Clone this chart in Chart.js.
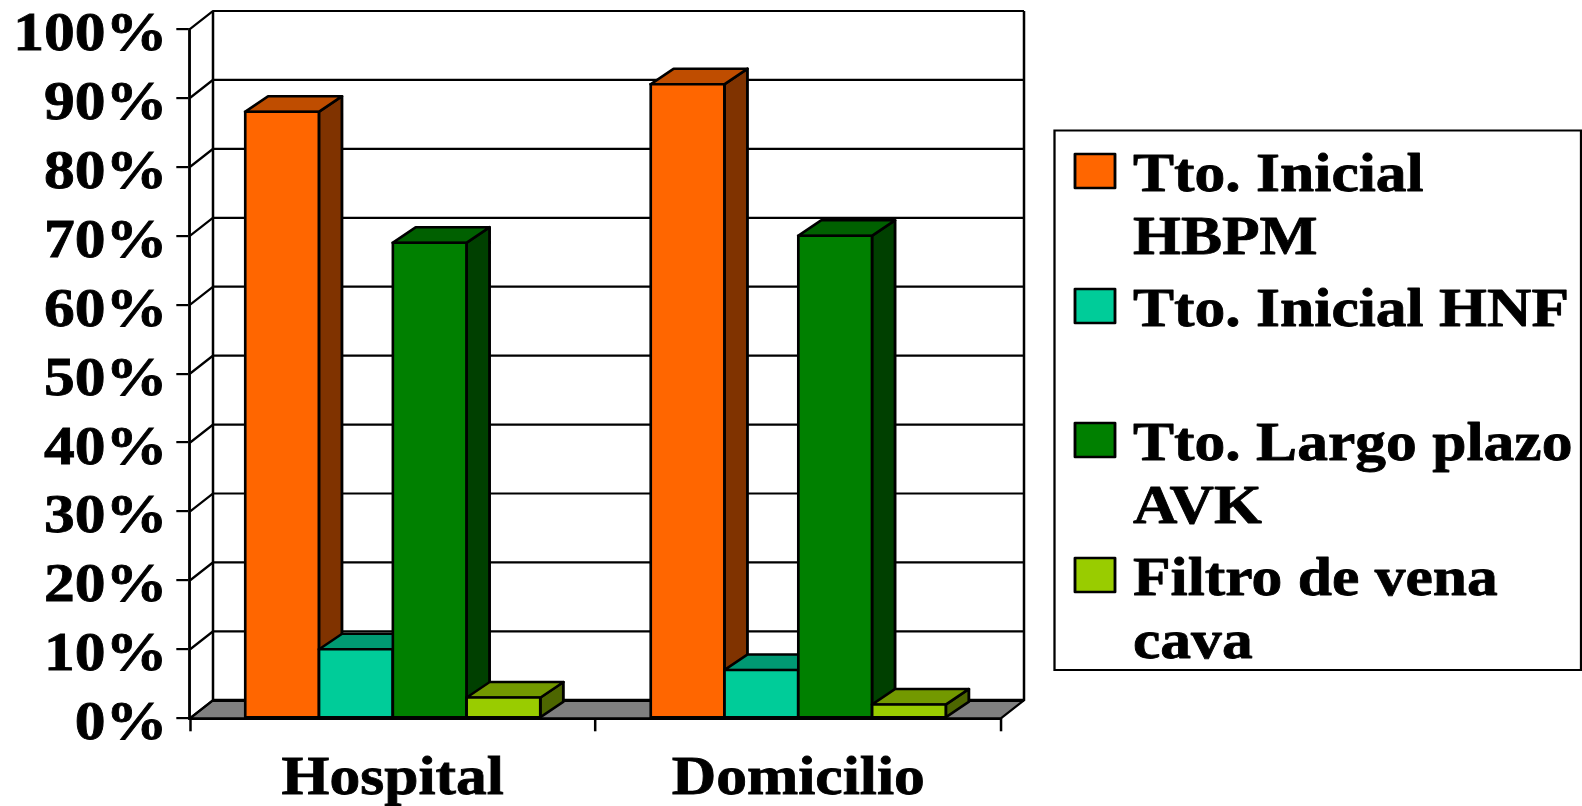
<!DOCTYPE html>
<html>
<head>
<meta charset="utf-8">
<title>Tratamiento Hospital / Domicilio</title>
<script src="https://cdn.jsdelivr.net/npm/chart.js@4/dist/chart.umd.js"></script>
<style>
    html, body { margin: 0; padding: 0; background: #fff; overflow: hidden; }
    canvas { display: block; }
</style>
</head>
<body>
<canvas id="myChart" width="1582" height="806"></canvas>
<script>
const categories = ['Hospital', 'Domicilio'];
const seriesNames = ['Tto. Inicial HBPM', 'Tto. Inicial HNF', 'Tto. Largo plazo AVK', 'Filtro de vena cava'];
const hbpm = [88, 92];
const hnf = [10, 7];
const avk = [69, 70];
const filtro = [3, 2];
const legendLines = [['Tto. Inicial', 'HBPM'], ['Tto. Inicial HNF'], ['Tto. Largo plazo', 'AVK'], ['Filtro de vena', 'cava']];

const frontColors = ['#FF6600', '#00CC99', '#008000', '#99CC00'];
const topColors = ['#BF4D00', '#009973', '#006000', '#739900'];
const sideColors = ['#803300', '#006650', '#004000', '#4D6600'];

// everything is laid out narrower and widened on the canvas, type included
const sx = 1.14;
const FONT = '"Liberation Serif", "Times New Roman", serif';
const wallDx = 23 / sx, wallDy = 18;
const barDx = 23 / sx, barDy = 15.5;

function poly(ctx, pts, fill) {
    ctx.beginPath();
    pts.forEach((p, i) => i ? ctx.lineTo(p[0], p[1]) : ctx.moveTo(p[0], p[1]));
    ctx.closePath();
    if (fill) {
        ctx.fillStyle = fill;
        ctx.fill();
    }
    ctx.stroke();
}

const stretch = {
    id: 'stretch',
    beforeDraw(chart) {
        chart.ctx.setTransform(sx, 0, 0, 1, 0, 0);
        // tick labels sit a little under their tick marks
        const items = chart.scales.y.getLabelItems();
        if (!items.nudged) {
            items.forEach(it => { it.options.translation[1] += 7; });
            items.nudged = true;
        }
    }
};

// side wall, back wall and floor, then the bars left to right so each one
// covers the side face of the previous one
const scene = {
    id: 'scene',
    beforeDatasetsDraw(chart) {
        const { ctx, chartArea: a, scales: { y } } = chart;
        ctx.save();
        ctx.strokeStyle = '#000';
        ctx.lineWidth = 2.2;
        ctx.lineJoin = 'round';
        poly(ctx, [[a.left, a.bottom], [a.left + wallDx, a.bottom - wallDy], [a.right + wallDx, a.bottom - wallDy], [a.right, a.bottom]], '#808080');
        y.ticks.forEach(t => {
            const py = y.getPixelForValue(t.value);
            ctx.beginPath();
            ctx.moveTo(a.left, py);
            ctx.lineTo(a.left + wallDx, py - wallDy);
            ctx.lineTo(a.right + wallDx, py - wallDy);
            ctx.stroke();
        });
        ctx.beginPath();
        ctx.moveTo(a.left + wallDx, a.top - wallDy);
        ctx.lineTo(a.left + wallDx, a.bottom - wallDy);
        ctx.moveTo(a.right + wallDx, a.top - wallDy);
        ctx.lineTo(a.right + wallDx, a.bottom - wallDy);
        ctx.stroke();
        ctx.lineWidth = 3.2;
        ctx.beginPath();
        ctx.moveTo(a.left + wallDx, a.bottom - wallDy);
        ctx.lineTo(a.right + wallDx, a.bottom - wallDy);
        ctx.stroke();

        ctx.lineWidth = 2.5;
        chart.data.datasets.forEach((ds, i) => {
            const meta = chart.getDatasetMeta(i);
            meta.data.forEach(bar => {
                const l = bar.x - bar.width / 2, r = bar.x + bar.width / 2, t = bar.y, b = bar.base;
                poly(ctx, [[r, t], [r + barDx, t - barDy], [r + barDx, b - barDy], [r, b]], sideColors[i]);
                poly(ctx, [[l, t], [l + barDx, t - barDy], [r + barDx, t - barDy], [r, t]], topColors[i]);
            });
            meta.controller.draw();
        });
        ctx.restore();
        return false;
    }
};

const legendBox = {
    id: 'legendBox',
    afterDraw(chart) {
        const { ctx } = chart;
        ctx.save();
        ctx.strokeStyle = '#000';
        ctx.lineWidth = 2;
        ctx.fillStyle = '#fff';
        ctx.fillRect(1054.5 / sx, 130.5, (1581 - 1054.5) / sx, 539.5);
        ctx.strokeRect(1054.5 / sx, 130.5, (1581 - 1054.5) / sx, 539.5);
        const baselines = [191, 326, 460, 595];
        ctx.font = 'bold 54px ' + FONT;
        ctx.textBaseline = 'alphabetic';
        ctx.lineJoin = 'round';
        legendLines.forEach((lines, i) => {
            const base = baselines[i];
            ctx.fillStyle = frontColors[i];
            ctx.lineWidth = 2.5;
            ctx.fillRect(1075 / sx, base - 37, 40 / sx, 34);
            ctx.strokeRect(1075 / sx, base - 37, 40 / sx, 34);
            ctx.fillStyle = '#000';
            ctx.lineWidth = 0.8;
            lines.forEach((line, k) => {
                ctx.fillText(line, 1133 / sx, base + k * 63);
                ctx.strokeText(line, 1133 / sx, base + k * 63);
            });
        });
        ctx.restore();
    }
};

const values = [hbpm, hnf, avk, filtro];

new Chart(document.getElementById('myChart'), {
    type: 'bar',
    data: {
        labels: categories,
        datasets: seriesNames.map((name, i) => ({
            label: name,
            data: values[i],
            backgroundColor: frontColors[i],
            borderColor: '#000',
            borderWidth: 2.5,
            borderSkipped: false,
            inflateAmount: 1.25,
            clip: false
        }))
    },
    options: {
        responsive: false,
        animation: false,
        events: [],
        categoryPercentage: 0.728,
        barPercentage: 1,
        layout: {
            padding: { left: 0, top: 29, bottom: 0, right: 1582 - 1001 / sx }
        },
        plugins: {
            legend: { display: false },
            title: { display: false },
            tooltip: { enabled: false }
        },
        scales: {
            x: {
                afterFit(scale) {
                    scale.height = 806 - 718.3;
                    scale.paddingLeft = scale.paddingRight = 0;
                },
                grid: {
                    offset: true,
                    drawOnChartArea: false,
                    color: '#000',
                    lineWidth: 2.2,
                    tickLength: 13
                },
                border: { color: '#000', width: 3 },
                ticks: {
                    color: '#000',
                    padding: 16,
                    maxRotation: 0,
                    textStrokeColor: '#000',
                    textStrokeWidth: 0.8,
                    font: { family: FONT, size: 54, weight: 'bold' }
                }
            },
            y: {
                min: 0,
                max: 100,
                afterFit(scale) {
                    scale.width = 190 / sx;
                    scale.paddingTop = scale.paddingBottom = 0;
                },
                grid: {
                    drawOnChartArea: false,
                    color: '#000',
                    lineWidth: 2.2,
                    tickLength: 12
                },
                border: { color: '#000', width: 2.5 },
                ticks: {
                    stepSize: 10,
                    autoSkip: false,
                    color: '#000',
                    padding: 8,
                    textStrokeColor: '#000',
                    textStrokeWidth: 0.8,
                    callback: v => v + '%',
                    font: { family: FONT, size: 54, weight: 'bold' }
                }
            }
        }
    },
    plugins: [stretch, scene, legendBox]
});
</script>
</body>
</html>
